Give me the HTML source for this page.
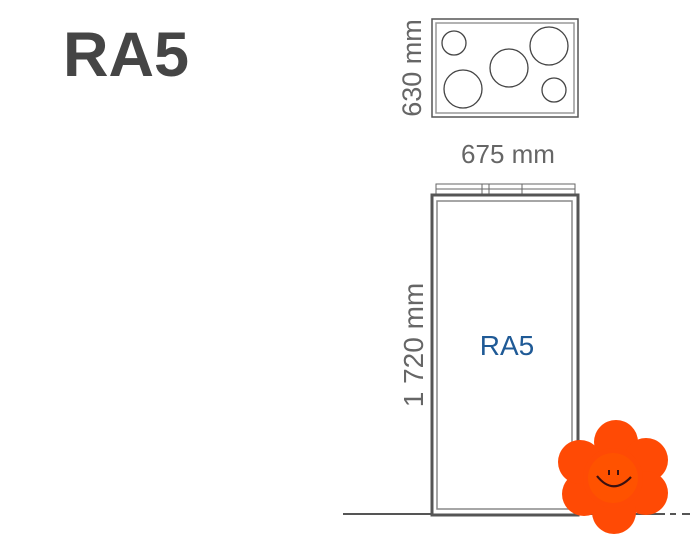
<!DOCTYPE html>
<html><head><style>body{margin:0;background:#fff}svg{display:block}</style></head><body>
<svg width="700" height="560" viewBox="0 0 700 560" xmlns="http://www.w3.org/2000/svg" font-family="Liberation Sans, sans-serif">
<text x="63" y="76" font-size="63" font-weight="bold" fill="#454545">RA5</text>
<rect x="432" y="19" width="146" height="98" fill="none" stroke="#555" stroke-width="1.5"/>
<rect x="436" y="23" width="138" height="90" fill="none" stroke="#999" stroke-width="1.5"/>
<g fill="none" stroke="#444" stroke-width="1.3">
<circle cx="454" cy="43" r="12"/><circle cx="549" cy="46" r="19"/><circle cx="509" cy="68" r="19"/><circle cx="463" cy="89" r="19"/><circle cx="554" cy="90" r="12"/>
</g>
<text transform="translate(421,68) rotate(-90)" text-anchor="middle" font-size="27" fill="#666">630 mm</text>
<text x="508" y="163" text-anchor="middle" font-size="26" fill="#666">675 mm</text>
<g fill="none" stroke="#666" stroke-width="1">
<rect x="436" y="184" width="139" height="11"/><line x1="436" y1="189" x2="575" y2="189"/>
<line x1="482" y1="184" x2="482" y2="195"/><line x1="489" y1="184" x2="489" y2="195"/><line x1="522" y1="184" x2="522" y2="195"/>
</g>
<rect x="432" y="195" width="146" height="320" fill="none" stroke="#555" stroke-width="3"/>
<rect x="437" y="201" width="135" height="308" fill="none" stroke="#888" stroke-width="1.5"/>
<text transform="translate(423,345) rotate(-90)" text-anchor="middle" font-size="28" fill="#666">1 720 mm</text>
<text x="507" y="355" text-anchor="middle" font-size="28" fill="#1f5a96">RA5</text>
<line x1="343" y1="514" x2="432" y2="514" stroke="#555" stroke-width="2"/>
<line x1="578" y1="514" x2="665" y2="514" stroke="#555" stroke-width="2"/>
<line x1="670" y1="514" x2="676" y2="514" stroke="#555" stroke-width="2"/>
<line x1="682" y1="514" x2="690" y2="514" stroke="#555" stroke-width="2"/>
<g fill="#ff4a05">
<circle cx="616" cy="442" r="22"/><circle cx="646" cy="460" r="22"/><circle cx="646" cy="493" r="22"/>
<circle cx="614" cy="512" r="22"/><circle cx="584" cy="494" r="22"/><circle cx="580" cy="462" r="22"/>
<circle cx="613" cy="478" r="30"/>
</g>
<circle cx="613" cy="478" r="25" fill="#ff5200"/>
<path d="M597 476 Q613 496 631 477" fill="none" stroke="#3a1010" stroke-width="2.2"/>
<line x1="609" y1="470" x2="609" y2="475" stroke="#3a1010" stroke-width="2"/>
<line x1="618" y1="470" x2="618" y2="475" stroke="#3a1010" stroke-width="2"/>
</svg>
</body></html>
